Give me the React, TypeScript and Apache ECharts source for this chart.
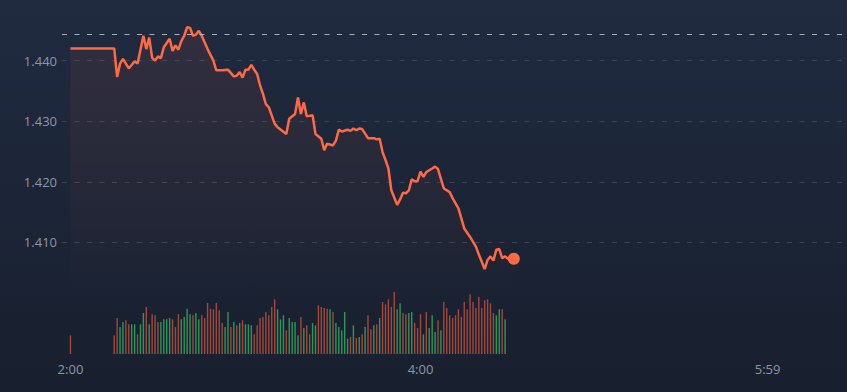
import React, { useEffect, useRef } from 'react';
import * as echarts from 'echarts';

// ---- data ----
const xTickMinutes = [0, 120, 239];
const xTickLabels = ['2:00', '4:00', '5:59'];
const yTickValues = [1.41, 1.42, 1.43, 1.44];
const prevClose = 1.4444;

// minutes after 2:00 and the price at that minute
const lineMinutes = [
  0, 15, 16, 17, 18, 20, 22, 23, 25, 26,
  27, 28, 29, 30, 31, 32, 34, 35, 36, 37,
  38, 39, 40, 41, 42, 43, 44, 45, 47, 49,
  50, 52, 54, 56, 57, 58, 59, 60, 61, 62,
  63, 64, 65, 66, 67, 68, 70, 71, 74, 75,
  77, 78, 79, 80, 81, 83, 84, 86, 87, 88,
  90, 91, 92, 93, 95, 96, 97, 98, 99, 100,
  102, 104, 105, 106, 107, 108, 109, 110, 112, 113,
  114, 115, 116, 117, 118, 119, 120, 121, 122, 123,
  124, 125, 126, 127, 128, 130, 131, 133, 135, 137,
  139, 140, 142, 143, 144, 145, 146, 147, 148, 149,
  150, 152,
];
const linePrices = [
  1.4420, 1.4420, 1.4373, 1.4395, 1.4403, 1.4387, 1.4399, 1.4395, 1.4441, 1.4419,
  1.4438, 1.4405, 1.4400, 1.4407, 1.4404, 1.4422, 1.4436, 1.4416, 1.4425, 1.4418,
  1.4432, 1.4441, 1.4455, 1.4454, 1.4441, 1.4443, 1.4449, 1.4441, 1.4419, 1.4400,
  1.4384, 1.4384, 1.4385, 1.4374, 1.4375, 1.4381, 1.4372, 1.4385, 1.4385, 1.4393,
  1.4385, 1.4378, 1.4359, 1.4345, 1.4328, 1.4323, 1.4296, 1.4290, 1.4279, 1.4304,
  1.4312, 1.4339, 1.4312, 1.4331, 1.4308, 1.4310, 1.4279, 1.4271, 1.4252, 1.4263,
  1.4260, 1.4268, 1.4286, 1.4283, 1.4286, 1.4284, 1.4288, 1.4285, 1.4288, 1.4287,
  1.4272, 1.4272, 1.4270, 1.4271, 1.4249, 1.4236, 1.4222, 1.4186, 1.4162, 1.4171,
  1.4182, 1.4181, 1.4186, 1.4204, 1.4201, 1.4201, 1.4217, 1.4208, 1.4216, 1.4219,
  1.4222, 1.4225, 1.4221, 1.4205, 1.4189, 1.4183, 1.4173, 1.4156, 1.4123, 1.4109,
  1.4093, 1.4080, 1.4056, 1.4071, 1.4077, 1.4070, 1.4088, 1.4089, 1.4074, 1.4077,
  1.4073, 1.4073,
];

// volume: opening bar at 2:00, then one bar per minute from minute 15
const openVolume = 18.7;
const openDir = 'r';
const volFirstMinute = 15;
const volumes = [
  18.7, 36, 27, 32, 33.7, 29.7, 29.7, 29.7, 19.7, 29.7,
  41, 47, 29.7, 39.7, 38.7, 32, 32, 34.7, 34.7, 36,
  34.7, 27, 39.7, 34.7, 37, 45.3, 39.7, 38.7, 41, 34.7,
  38.7, 36, 51, 45.3, 44.7, 51, 43.7, 31, 27, 42,
  27, 32, 28.7, 31, 33.7, 29.7, 29.7, 28.7, 19.7, 28.7,
  36, 37, 42, 38.7, 47, 54.7, 44.7, 34.7, 38.7, 23.7,
  36, 32, 32, 18.7, 37, 26, 28.7, 19.7, 31, 28.7,
  48.7, 47, 46, 45.3, 44.7, 42, 31, 27, 23.7, 42,
  15.3, 17, 28.7, 16, 17, 19.7, 27, 38.7, 24.7, 28.7,
  29.7, 36, 52, 49.7, 54.7, 47, 62, 44.7, 50.7, 41,
  39.7, 41, 42, 31, 26, 39.7, 19.7, 42, 26, 38.7,
  22, 33.7, 23.7, 52, 46, 38.7, 36, 38.7, 44.7, 37,
  52, 44.7, 59.7, 52, 46, 57, 46, 53.7, 54.7, 50.7,
  41, 38.7, 44.7, 44.7, 34.7,
];
const volDirs = [
  'r', 'r', 'g', 'g', 'r', 'r', 'g', 'g', 'r', 'g',
  'g', 'r', 'g', 'r', 'r', 'r', 'g', 'g', 'g', 'g',
  'r', 'r', 'r', 'g', 'g', 'g', 'g', 'r', 'g', 'g',
  'r', 'r', 'r', 'r', 'r', 'r', 'r', 'r', 'g', 'g',
  'r', 'g', 'r', 'g', 'r', 'g', 'g', 'g', 'r', 'r',
  'r', 'r', 'r', 'r', 'r', 'r', 'g', 'g', 'g', 'r',
  'g', 'g', 'g', 'g', 'r', 'g', 'r', 'r', 'g', 'g',
  'r', 'r', 'r', 'r', 'g', 'r', 'g', 'g', 'g', 'g',
  'g', 'r', 'g', 'r', 'g', 'r', 'g', 'r', 'r', 'g',
  'r', 'g', 'r', 'r', 'r', 'r', 'r', 'g', 'g', 'r',
  'r', 'g', 'g', 'r', 'r', 'r', 'g', 'r', 'g', 'g',
  'g', 'r', 'g', 'r', 'r', 'r', 'r', 'r', 'r', 'r',
  'r', 'r', 'r', 'r', 'r', 'r', 'r', 'r', 'r', 'r',
  'r', 'g', 'g', 'r', 'g',
];

const LINE = '#ff6a45';
const RED = '#a3473b';
const GREEN = '#2a9857';
const LABEL = '#8e96a5';
const FONT = 'Open Sans';
const X_MIN = -2.9;
const X_MAX = 264.5;

export default function App() {
  const ref = useRef<HTMLDivElement>(null);

  useEffect(() => {
    if (!ref.current) return;
    const chart = echarts.init(ref.current, undefined, { renderer: 'svg' });

    const lineData = lineMinutes.map((m, i) => [m, linePrices[i]]);
    const last = lineData[lineData.length - 1];
    const volData = [
      { value: [0, openVolume], itemStyle: { color: openDir === 'r' ? RED : GREEN } },
      ...volumes.map((v, i) => ({
        value: [volFirstMinute + i, v],
        itemStyle: { color: volDirs[i] === 'r' ? RED : GREEN },
      })),
    ];

    chart.setOption({
      animation: false,
      backgroundColor: new echarts.graphic.LinearGradient(0, 0, 0, 1, [
        { offset: 0, color: '#202b40' },
        { offset: 1, color: '#181f2e' },
      ]),
      grid: [
        { left: 62, right: 5, top: 0, height: 303 },
        { left: 62, right: 5, top: 284, height: 70 },
      ],
      xAxis: [
        { type: 'value', gridIndex: 0, min: X_MIN, max: X_MAX, show: false },
        {
          type: 'value',
          gridIndex: 1,
          min: X_MIN,
          max: X_MAX,
          axisLine: { show: false },
          axisTick: { show: false },
          splitLine: { show: false },
          axisLabel: {
            customValues: xTickMinutes,
            formatter: (v: number) => {
              const i = xTickMinutes.indexOf(Math.round(v));
              return i >= 0 ? xTickLabels[i] : '';
            },
            color: LABEL,
            fontSize: 13,
            fontFamily: FONT,
            margin: 8,
          },
        },
      ],
      yAxis: [
        {
          type: 'value',
          gridIndex: 0,
          min: 1.4,
          max: 1.45,
          interval: 0.01,
          axisLine: { show: false },
          axisTick: { show: false },
          axisLabel: {
            formatter: (v: number) =>
              yTickValues.some((t) => Math.abs(t - v) < 1e-6) ? v.toFixed(3) : '',
            color: LABEL,
            fontSize: 13,
            fontFamily: FONT,
            margin: 5,
          },
          splitLine: {
            show: true,
            showMinLine: false,
            showMaxLine: false,
            lineStyle: { color: '#394356', type: [5, 7.5], width: 1 },
          },
        },
        { type: 'value', gridIndex: 1, min: 0, max: 70, show: false },
      ],
      series: [
        {
          type: 'bar',
          xAxisIndex: 1,
          yAxisIndex: 1,
          barWidth: 1.4,
          data: volData,
          silent: true,
        },
        {
          type: 'line',
          xAxisIndex: 0,
          yAxisIndex: 0,
          data: lineData,
          showSymbol: false,
          lineStyle: { color: LINE, width: 2.5 },
          areaStyle: {
            color: new echarts.graphic.LinearGradient(0, 0, 0, 1, [
              { offset: 0, color: 'rgba(255,95,65,0.12)' },
              { offset: 0.7, color: 'rgba(255,95,65,0.045)' },
              { offset: 1, color: 'rgba(255,95,65,0)' },
            ]),
          },
          markLine: {
            silent: true,
            precision: 4,
            symbol: ['none', 'none'],
            label: { show: false },
            lineStyle: { color: '#a7afbd', type: [5, 7.5], width: 1 },
            data: [{ yAxis: prevClose }],
          },
          z: 3,
        },
        {
          type: 'scatter',
          xAxisIndex: 0,
          yAxisIndex: 0,
          data: [last],
          symbolSize: 12,
          itemStyle: { color: LINE, opacity: 1 },
          z: 4,
        },
      ],
    });

    return () => chart.dispose();
  }, []);

  return (
    <div
      ref={ref}
      style={{ position: 'fixed', left: 0, top: 0, width: 847, height: 392 }}
    />
  );
}
